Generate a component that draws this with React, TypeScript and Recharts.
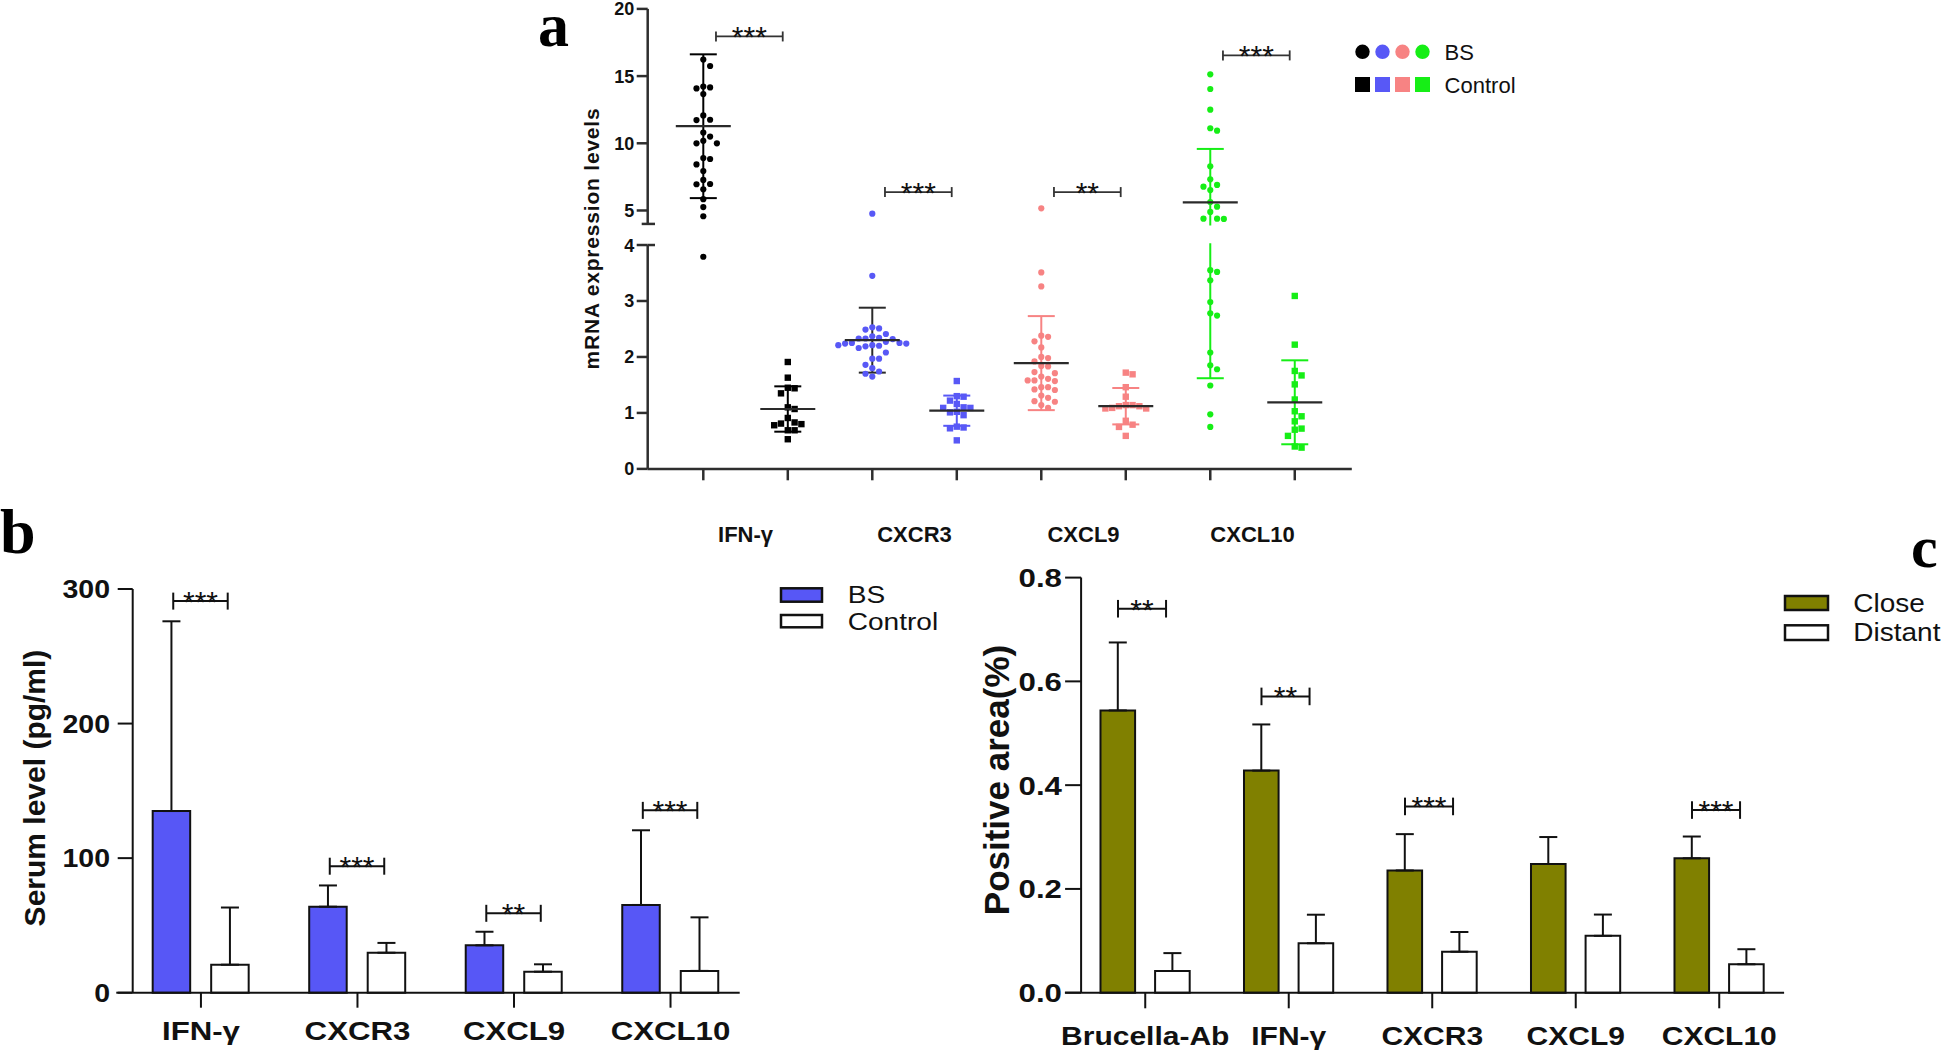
import React from 'react'
import {
  ScatterChart, Scatter, ComposedChart, Bar, XAxis, YAxis, ErrorBar,
  ReferenceLine, ReferenceArea,
} from 'recharts'

const W = 1946
const H = 1051
const FONT = '"Liberation Sans", Arial, sans-serif'
const SERIF = '"Liberation Serif", "Times New Roman", serif'

// ---------- panel a: mRNA expression (broken y axis) ----------
const genesA = ['IFN-γ', 'CXCR3', 'CXCL9', 'CXCL10']
const ifnBS = [16.23, 15.75, 14.22, 14.16, 14.08, 13.66, 12.07, 11.73, 11.75, 10.8, 10.5, 10.0, 10.18, 10.0, 8.9, 8.83, 8.43, 7.93, 7.27, 6.95, 6.97, 6.58, 5.84, 5.25, 4.57, 3.79]
const ifnCtrl = [1.91, 1.63, 1.44, 1.45, 1.35, 1.1, 1.07, 0.91, 0.8, 0.78, 0.81, 0.83, 0.69, 0.69, 0.53]
const cxcr3BS = [4.76, 3.45, 2.49, 2.53, 2.51, 2.41, 2.33, 2.33, 2.37, 2.34, 2.32, 2.27, 2.25, 2.24, 2.24, 2.21, 2.2, 2.16, 2.25, 2.19, 2.21, 2.08, 1.97, 1.97, 1.86, 1.8, 1.74, 1.7, 1.65]
const cxcr3Ctrl = [1.57, 1.3, 1.29, 1.22, 1.16, 1.1, 1.09, 1.09, 1.01, 1.02, 0.96, 0.755, 0.74, 0.725, 0.51]
const cxcl9BS = [5.16, 3.51, 3.26, 2.36, 2.38, 2.28, 2.17, 1.98, 2.0, 1.92, 1.83, 1.84, 1.73, 1.71, 1.58, 1.61, 1.57, 1.65, 1.58, 1.46, 1.46, 1.42, 1.41, 1.27, 1.21, 1.31, 1.2, 1.14, 1.09]
const cxcl9Ctrl = [1.69, 1.72, 1.46, 1.29, 1.08, 1.08, 1.14, 1.12, 1.14, 1.12, 1.09, 0.86, 0.79, 0.75, 0.59]
const cxcl10BS = [15.13, 14.04, 12.5, 11.12, 10.94, 8.29, 7.32, 6.77, 6.9, 6.52, 5.63, 5.28, 4.89, 4.39, 4.39, 4.37, 3.55, 3.52, 3.37, 2.98, 2.78, 2.74, 2.08, 1.85, 1.78, 1.49, 0.975, 0.75]
const cxcl10Ctrl = [3.09, 2.22, 1.67, 1.75, 1.51, 1.24, 1.03, 0.94, 0.85, 0.72, 0.7, 0.59, 0.4, 0.38]
const meanBS = [11.27, 2.3, 1.89, 5.6]
const sdBS = [5.35, 0.58, 0.84, 3.98]
const meanCtrl = [1.07, 1.04, 1.12, 1.19]
const sdCtrl = [0.405, 0.27, 0.325, 0.75]
const sigA = ['***', '***', '**', '***']
const sigHeightA = [17.95, 6.37, 6.37, 16.54]
const ticksA = [0, 1, 2, 3, 4, 5, 10, 15, 20]
const colorsA = ['#000000', '#5858f6', '#f78383', '#16ee16']

// ---------- panel b: serum levels ----------
const genesB = ['IFN-γ', 'CXCR3', 'CXCL9', 'CXCL10']
const serumBS = [135, 63.9, 35.2, 65.2]
const serumBSsd = [141, 15.8, 10.1, 55.5]
const serumCtrl = [20.8, 29.7, 15.6, 16.2]
const serumCtrlSd = [42.5, 7.3, 5.5, 39.8]
const sigB = ['***', '***', '**', '***']
const sigHeightB = [291, 94, 59, 135.5]

// ---------- panel c: positive area ----------
const genesC = ['Brucella-Ab', 'IFN-γ', 'CXCR3', 'CXCL9', 'CXCL10']
const areaClose = [0.544, 0.428, 0.2356, 0.248, 0.259]
const areaCloseSd = [0.131, 0.089, 0.07, 0.052, 0.042]
const areaDistant = [0.0418, 0.0953, 0.079, 0.1096, 0.0548]
const areaDistantSd = [0.0345, 0.055, 0.038, 0.041, 0.029]
const sigC = ['**', '**', '***', '', '***']
const sigHeightC = [0.74, 0.571, 0.359, 0, 0.352]

// broken axis: 0-4 full scale, gap, 4-20 compressed
const GAP = 0.377
const UP_K = 0.2401
const brk = (v: number) => (v <= 4 ? v : 4 + GAP + (v - 4) * UP_K)
const TOP_A = brk(20)
const XMIN_A = -0.658
const XMAX_A = 7.675
const PXY_A = 55.97 // px per lower y unit
const PXX_A = 84.5 // px per x slot

function swarm(vals: number[], step: number, near: number): number[] {
  const out = vals.map(() => 0)
  const placed: { x: number; y: number }[] = []
  const order = vals.map((v, i) => ({ i, y: brk(v) * PXY_A })).sort((a, b) => b.y - a.y)
  for (const p of order) {
    for (let k = 0; k < 40; k++) {
      const c = (k % 2 ? 1 : -1) * Math.ceil(k / 2) * step
      if (placed.every(q => Math.abs(q.x - c) > step * 0.9 || Math.abs(q.y - p.y) >= near)) {
        out[p.i] = c
        placed.push({ x: c, y: p.y })
        break
      }
    }
  }
  return out
}

const pts = (vals: number[], pos: number) =>
  swarm(vals, 6.8, 7.5).map((dx, i) => ({ x: pos + dx / PXX_A, y: brk(vals[i]) }))

const meanPt = (m: number, sd: number, pos: number) => [{
  x: pos,
  y: brk(m),
  err: [brk(m) - brk(m - sd), brk(m + sd) - brk(m)],
}]

const bsA = [ifnBS, cxcr3BS, cxcl9BS, cxcl10BS]
const ctrlA = [ifnCtrl, cxcr3Ctrl, cxcl9Ctrl, cxcl10Ctrl]

const dot = (color: string) => (p: any) => <circle cx={p.cx} cy={p.cy} r={3.1} fill={color} />
const sq = (color: string) => (p: any) => <rect x={p.cx - 3.2} y={p.cy - 3.2} width={6.4} height={6.4} fill={color} />
const meanLine = (p: any) => <line x1={p.cx - 27.5} x2={p.cx + 27.5} y1={p.cy} y2={p.cy} stroke="#2a2a2a" strokeWidth={2.2} />

const bracket = (label: string, cap: number, color: string, sw: number) => (p: any) => {
  const { x1, x2, y1 } = p
  return (
    <g>
      <line x1={x1} x2={x2} y1={y1} y2={y1} stroke={color} strokeWidth={sw} />
      <line x1={x1} x2={x1} y1={y1 - cap} y2={y1 + cap} stroke={color} strokeWidth={sw} />
      <line x1={x2} x2={x2} y1={y1 - cap} y2={y1 + cap} stroke={color} strokeWidth={sw} />
      <text x={(x1 + x2) / 2} y={y1 + 11} textAnchor="middle" fontSize={30} fontFamily={FONT} fill="#111">{label}</text>
    </g>
  )
}

const yTick = (size: number, sx: number, fmt: (v: number) => string) => (p: any) => (
  <text transform={`translate(${p.x},${p.y}) scale(${sx},1)`} textAnchor="end" dy="0.36em"
    fontSize={size} fontWeight={700} fontFamily={FONT} fill="#111">{fmt(p.payload.value)}</text>
)

const labelA = (v: number) => {
  const t = ticksA.find(k => Math.abs(brk(k) - v) < 1e-6)
  return t === undefined ? '' : String(t)
}

const xTickA = (p: any) => {
  const v = Math.round(p.payload.value)
  if (v % 2 !== 0) return <g />
  return (
    <text x={p.x + PXX_A / 2} y={p.y + 62} textAnchor="middle" fontSize={22} fontWeight={700}
      fontFamily={FONT} fill="#111">{genesA[v / 2]}</text>
  )
}

const xTickBar = (names: string[], dy: number, size: number, sx: number) => (p: any) => (
  <text transform={`translate(${p.x},${p.y + dy}) scale(${sx},1)`} textAnchor="middle"
    fontSize={size} fontWeight={700} fontFamily={FONT} fill="#111">{names[Math.round(p.payload.value)]}</text>
)

const dataB = genesB.map((g, i) => ({
  pos: i, bs: serumBS[i], ctrl: serumCtrl[i],
  bsErr: [0, serumBSsd[i]], ctrlErr: [0, serumCtrlSd[i]],
}))
const dataC = genesC.map((g, i) => ({
  pos: i, close: areaClose[i], distant: areaDistant[i],
  closeErr: [0, areaCloseSd[i]], distantErr: [0, areaDistantSd[i]],
}))

const abs: React.CSSProperties = { position: 'absolute', left: 0, top: 0 }

function PanelA() {
  return (
    <div style={abs}>
      <ScatterChart width={W} height={H} margin={{ left: 587.7, right: 594.2, top: 8.9, bottom: 502.1 }}>
        <XAxis type="number" dataKey="x" domain={[XMIN_A, XMAX_A]} ticks={[0, 1, 2, 3, 4, 5, 6, 7]}
          height={80} tickSize={11.4} tickMargin={0} tick={xTickA}
          axisLine={{ stroke: '#2e2e2e', strokeWidth: 2.5 }} tickLine={{ stroke: '#2e2e2e', strokeWidth: 2.5 }} />
        <YAxis type="number" dataKey="y" domain={[0, TOP_A]} ticks={ticksA.map(brk)} width={60}
          tickSize={11} tickMargin={2.4} tick={yTick(18, 1, labelA)} axisLine={false}
          tickLine={{ stroke: '#2e2e2e', strokeWidth: 2.5 }} />
        {bsA.map((vals, g) => (
          <Scatter key={'b' + g} data={pts(vals, 2 * g)} shape={dot(colorsA[g])} isAnimationActive={false} />
        ))}
        {ctrlA.map((vals, g) => (
          <Scatter key={'c' + g} data={pts(vals, 2 * g + 1)} shape={sq(colorsA[g])} isAnimationActive={false} />
        ))}
        {genesA.map((g, i) => (
          <Scatter key={'mb' + i} data={meanPt(meanBS[i], sdBS[i], 2 * i)} shape={meanLine} isAnimationActive={false}>
            <ErrorBar dataKey="err" direction="y" width={13.5} stroke={i === 1 ? '#2a2a2a' : colorsA[i]} strokeWidth={2} isAnimationActive={false} />
          </Scatter>
        ))}
        {genesA.map((g, i) => (
          <Scatter key={'mc' + i} data={meanPt(meanCtrl[i], sdCtrl[i], 2 * i + 1)} shape={meanLine} isAnimationActive={false}>
            <ErrorBar dataKey="err" direction="y" width={13.5} stroke={colorsA[i]} strokeWidth={2} isAnimationActive={false} />
          </Scatter>
        ))}
        <ReferenceArea x1={XMIN_A} x2={XMAX_A} y1={4.03} y2={4 + GAP - 0.03} fill="#ffffff" fillOpacity={1}
          stroke="none" ifOverflow="visible" zIndex={700} />
        <ReferenceLine segment={[{ x: XMIN_A, y: 0 }, { x: XMIN_A, y: 4 }]} stroke="#2e2e2e" strokeWidth={2.5} ifOverflow="visible" zIndex={800} />
        <ReferenceLine segment={[{ x: XMIN_A, y: 4 + GAP }, { x: XMIN_A, y: TOP_A }]} stroke="#2e2e2e" strokeWidth={2.5} ifOverflow="visible" zIndex={800} />
        <ReferenceLine segment={[{ x: XMIN_A, y: 4 }, { x: XMIN_A + 7.3 / PXX_A, y: 4 }]} stroke="#2e2e2e" strokeWidth={2.5} ifOverflow="visible" zIndex={800} />
        <ReferenceLine segment={[{ x: XMIN_A - 6 / PXX_A, y: 4 + GAP }, { x: XMIN_A + 7.3 / PXX_A, y: 4 + GAP }]} stroke="#2e2e2e" strokeWidth={2.5} ifOverflow="visible" zIndex={800} />
        {genesA.map((g, i) => (
          <ReferenceLine key={'s' + i} segment={[{ x: 2 * i + 0.15, y: brk(sigHeightA[i]) }, { x: 2 * i + 0.94, y: brk(sigHeightA[i]) }]}
            shape={bracket(sigA[i], 5, '#333', 1.8)} ifOverflow="visible" zIndex={800} />
        ))}
      </ScatterChart>
    </div>
  )
}

function PanelB() {
  return (
    <div style={abs}>
      <ComposedChart width={W} height={H} data={dataB} barGap={21}
        margin={{ left: 62.7, right: 1206.3, top: 589, bottom: 8.3 }}>
        <XAxis type="number" dataKey="pos" domain={[-0.436, 3.442]} ticks={[0, 1, 2, 3]} height={50}
          tickSize={15} tickMargin={0} tick={xTickBar(genesB, 32, 26, 1.2)}
          axisLine={{ stroke: '#111', strokeWidth: 2 }} tickLine={{ stroke: '#111', strokeWidth: 2 }} />
        <YAxis type="number" domain={[0, 300]} ticks={[0, 100, 200, 300]} width={70} tickSize={15}
          tickMargin={7.7} tick={yTick(25, 1.14, v => String(v))}
          axisLine={{ stroke: '#111', strokeWidth: 2 }} tickLine={{ stroke: '#111', strokeWidth: 2 }} />
        <Bar dataKey="bs" barSize={37.5} fill="#5757f6" stroke="#111" strokeWidth={2} isAnimationActive={false}>
          <ErrorBar dataKey="bsErr" direction="y" width={9} stroke="#111" strokeWidth={2} isAnimationActive={false} />
        </Bar>
        <Bar dataKey="ctrl" barSize={37.5} fill="#ffffff" stroke="#111" strokeWidth={2} isAnimationActive={false}>
          <ErrorBar dataKey="ctrlErr" direction="y" width={9} stroke="#111" strokeWidth={2} isAnimationActive={false} />
        </Bar>
        <ReferenceLine segment={[{ x: -0.541, y: 0 }, { x: -0.436, y: 0 }]} stroke="#111" strokeWidth={2} ifOverflow="visible" />
        {genesB.map((g, i) => (
          <ReferenceLine key={i} segment={[{ x: i - 0.177, y: sigHeightB[i] }, { x: i + 0.171, y: sigHeightB[i] }]}
            shape={bracket(sigB[i], 8.5, '#111', 2)} ifOverflow="visible" zIndex={800} />
        ))}
      </ComposedChart>
    </div>
  )
}

function PanelC() {
  return (
    <div style={abs}>
      <ComposedChart width={W} height={H} data={dataC} barGap={20}
        margin={{ left: 1011.1, right: 161.9, top: 577.6, bottom: 8.3 }}>
        <XAxis type="number" dataKey="pos" domain={[-0.447, 4.452]} ticks={[0, 1, 2, 3, 4]} height={50}
          tickSize={15.6} tickMargin={0} tick={xTickBar(genesC, 37, 25, 1.2)}
          axisLine={{ stroke: '#111', strokeWidth: 2 }} tickLine={{ stroke: '#111', strokeWidth: 2 }} />
        <YAxis type="number" domain={[0, 0.8]} ticks={[0, 0.2, 0.4, 0.6, 0.8]} width={70} tickSize={16}
          tickMargin={3.2} tick={yTick(26, 1.2, v => v.toFixed(1))}
          axisLine={{ stroke: '#111', strokeWidth: 2 }} tickLine={{ stroke: '#111', strokeWidth: 2 }} />
        <Bar dataKey="close" barSize={34.6} fill="#808000" stroke="#111" strokeWidth={2} isAnimationActive={false}>
          <ErrorBar dataKey="closeErr" direction="y" width={9} stroke="#111" strokeWidth={2} isAnimationActive={false} />
        </Bar>
        <Bar dataKey="distant" barSize={34.6} fill="#ffffff" stroke="#111" strokeWidth={2} isAnimationActive={false}>
          <ErrorBar dataKey="distantErr" direction="y" width={9} stroke="#111" strokeWidth={2} isAnimationActive={false} />
        </Bar>
        <ReferenceLine segment={[{ x: -0.56, y: 0 }, { x: -0.447, y: 0 }]} stroke="#111" strokeWidth={2} ifOverflow="visible" />
        {genesC.map((g, i) => sigC[i] ? (
          <ReferenceLine key={i} segment={[{ x: i - 0.19, y: sigHeightC[i] }, { x: i + 0.145, y: sigHeightC[i] }]}
            shape={bracket(sigC[i], 8.8, '#111', 2)} ifOverflow="visible" zIndex={800} />
        ) : null)}
      </ComposedChart>
    </div>
  )
}

function Overlay() {
  const t = (x: number, y: number, s: string, size: number, sx = 1, weight = 400) => (
    <text transform={`translate(${x},${y}) scale(${sx},1)`} fontSize={size} fontWeight={weight} fontFamily={FONT} fill="#111">{s}</text>
  )
  const vt = (x: number, y: number, s: string, size: number, ls = 0) => (
    <text transform={`translate(${x},${y}) rotate(-90)`} textAnchor="middle" dy="0.35em" fontSize={size}
      fontWeight={700} fontFamily={FONT} letterSpacing={ls} fill="#111">{s}</text>
  )
  return (
    <svg width={W} height={H} style={{ ...abs, pointerEvents: 'none' }}>
      <text x={0} y={553} fontSize={64} fontWeight={700} fontFamily={SERIF} fill="#000">b</text>
      <text x={1911} y={567} fontSize={60} fontWeight={700} fontFamily={SERIF} fill="#000">c</text>
      {vt(591.7, 238.5, 'mRNA expression levels', 21, 0.8)}
      {vt(34, 788, 'Serum level (pg/ml)', 30)}
      {vt(997, 780, 'Positive area(%)', 35)}
      {colorsA.map((c, i) => (
        <g key={i}>
          <circle cx={1362.5 + i * 20} cy={51.8} r={7.2} fill={c} />
          <rect x={1362.5 + i * 20 - 7.5} y={77} width={15} height={15} fill={c} />
        </g>
      ))}
      {t(1444.6, 59.7, 'BS', 22)}
      {t(1444.6, 92.5, 'Control', 22)}
      <rect x={781} y={588.3} width={41} height={13.4} fill="#5757f6" stroke="#111" strokeWidth={2.5} />
      <rect x={781} y={615} width={41} height={12.3} fill="#fff" stroke="#111" strokeWidth={2.5} />
      {t(847.7, 603.3, 'BS', 24, 1.17)}
      {t(847.7, 630, 'Control', 24, 1.17)}
      <rect x={1785} y={596} width={43} height={14} fill="#808000" stroke="#111" strokeWidth={2.5} />
      <rect x={1785} y={625.3} width={43} height={14.7} fill="#fff" stroke="#111" strokeWidth={2.5} />
      {t(1853.3, 612.3, 'Close', 25, 1.12)}
      {t(1853.3, 640.7, 'Distant', 25, 1.12)}
    </svg>
  )
}

export default function App() {
  return (
    <div style={{ position: 'fixed', left: 0, top: 0, width: W, height: H, background: '#fff', overflow: 'hidden' }}>
      <PanelA />
      <PanelB />
      <PanelC />
      <Overlay />
      <div style={{
        position: 'absolute', left: 538, top: 5, height: 40, lineHeight: '40px', fontSize: 62,
        fontWeight: 700, fontFamily: SERIF, color: '#000', overflow: 'visible', pointerEvents: 'none',
      }}>a</div>
    </div>
  )
}
